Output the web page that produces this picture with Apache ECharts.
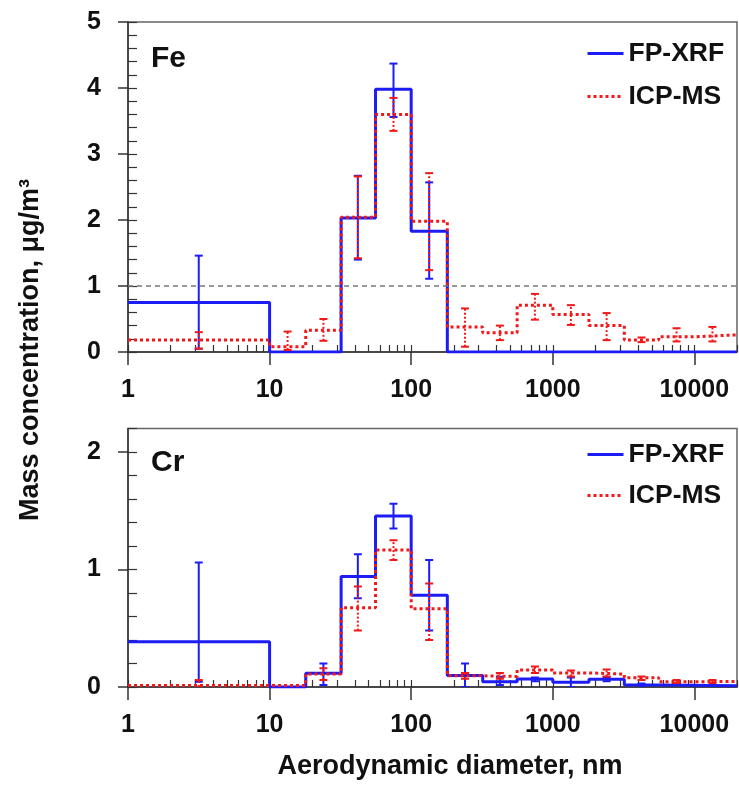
<!DOCTYPE html>
<html>
<head>
<meta charset="utf-8">
<script src="https://cdn.jsdelivr.net/npm/echarts@6/dist/echarts.min.js"></script>
<style>html,body{margin:0;padding:0;background:#fff}#c{width:739px;height:789px}</style>
</head>
<body>
<div id="c"></div>
<script>
// ---------- data ----------
const xMajorTicks = [1, 10, 100, 1000, 10000];
const xMinorTicks = [2,3,4,5,6,7,8,9,20,30,40,50,60,70,80,90,200,300,400,500,600,700,800,900,2000,3000,4000,5000,6000,7000,8000,9000,20000];
const yTicksFe = [0, 1, 2, 3, 4, 5];
const yMinorFe = [0,0.2,0.4,0.6,0.8,1,1.2,1.4,1.6,1.8,2,2.2,2.4,2.6,2.8,3,3.2,3.4,3.6,3.8,4,4.2,4.4,4.6,4.8,5];
const yTicksCr = [0, 1, 2];
const yMinorCr = [0,0.2,0.4,0.6,0.8,1,1.2,1.4,1.6,1.8,2,2.2];

// Fe panel
const feXrfEdges = [1, 10, 32, 56, 100, 180, 20000];
const feXrfValues = [0.75, 0, 2.03, 3.98, 1.83, 0];
const feXrfErr = [[3.16, 0.05, 1.46], [42, 1.40, 2.67], [75, 3.56, 4.37], [134, 1.11, 2.57]];

const feIcpEdges = [1, 10, 18, 32, 56, 100, 180, 320, 560, 1000, 1800, 3200, 5600, 10000, 20000];
const feIcpValues = [0.18, 0.08, 0.33, 2.04, 3.60, 1.98, 0.38, 0.29, 0.71, 0.57, 0.40, 0.18, 0.23, 0.26];
const feIcpErr = [[3.16, 0.05, 0.30], [13.4, 0.03, 0.31], [24, 0.17, 0.50], [42, 1.42, 2.66], [75, 3.35, 3.85],
  [134, 1.24, 2.71], [240, 0.08, 0.66], [423, 0.18, 0.40], [748, 0.49, 0.88], [1342, 0.41, 0.71],
  [2400, 0.18, 0.59], [4233, 0.15, 0.22], [7483, 0.16, 0.36], [13416, 0.16, 0.38]];

// Cr panel
const crXrfEdges = [1, 10, 18, 32, 56, 100, 180, 320, 560, 1000, 1800, 3200, 5600, 20000];
const crXrfValues = [0.385, 0, 0.117, 0.94, 1.455, 0.78, 0.097, 0.045, 0.068, 0.04, 0.065, 0.016, 0.01];
const crXrfErr = [[3.16, 0.045, 1.06], [24, 0.017, 0.20], [42, 0.755, 1.13], [75, 1.35, 1.56], [134, 0.48, 1.08],
  [240, 0.0, 0.20], [423, 0.017, 0.088], [748, 0.05, 0.08], [1342, 0.0, 0.08], [2400, 0.05, 0.085], [4233, 0.005, 0.03]];

const crIcpEdges = [1, 10, 18, 32, 56, 100, 180, 320, 560, 1000, 1800, 3200, 5600, 10000, 20000];
const crIcpValues = [0.012, 0.012, 0.11, 0.675, 1.166, 0.665, 0.095, 0.09, 0.145, 0.12, 0.11, 0.078, 0.045, 0.048];
const crIcpErr = [[3.16, 0.0, 0.06], [24, 0.06, 0.16], [42, 0.48, 0.855], [75, 1.08, 1.25], [134, 0.40, 0.88],
  [240, 0.07, 0.12], [423, 0.07, 0.12], [748, 0.12, 0.175], [1342, 0.09, 0.14], [2400, 0.09, 0.15],
  [4233, 0.06, 0.09], [7483, 0.035, 0.06], [13416, 0.035, 0.06]];

// ---------- helpers ----------
const FONT = 'Liberation Sans, Arial, Helvetica, sans-serif';
const BLUE = '#1c1cf5';
const RED = '#f01818';
const AX = '#333';

function steps(edges, vals) {
  const pts = [];
  for (let i = 0; i < vals.length; i++) {
    pts.push([edges[i], vals[i]]);
    pts.push([edges[i + 1], vals[i]]);
  }
  return pts;
}
function errRender(color, dash) {
  return function (params, api) {
    const x = api.value(0), lo = api.value(1), hi = api.value(2);
    const a = api.coord([x, lo]), b = api.coord([x, hi]);
    const hw = 4;
    const st = { stroke: color, lineWidth: 2, lineDash: dash ? [2, 2] : null };
    const cap = { stroke: color, lineWidth: 2 };
    return {
      type: 'group', children: [
        { type: 'line', shape: { x1: a[0], y1: a[1], x2: b[0], y2: b[1] }, style: st },
        { type: 'line', shape: { x1: a[0] - hw, y1: a[1], x2: a[0] + hw, y2: a[1] }, style: cap },
        { type: 'line', shape: { x1: b[0] - hw, y1: b[1], x2: b[0] + hw, y2: b[1] }, style: cap }
      ]
    };
  };
}
function xMain(grid) {
  return {
    type: 'log', logBase: 10, gridIndex: grid, min: 1, max: 20000, position: 'bottom',
    axisLine: { show: true, onZero: false, lineStyle: { color: AX, width: 1.5 } },
    axisTick: { show: true, inside: false, length: 13, customValues: xMajorTicks, lineStyle: { color: AX, width: 1.5 } },
    axisLabel: { show: true, customValues: xMajorTicks, formatter: v => String(v), margin: 26,
      fontSize: 25, fontWeight: 'bold', color: '#111', fontFamily: FONT },
    splitLine: { show: false }, minorTick: { show: false }
  };
}
function xInner(grid) {
  return {
    type: 'log', logBase: 10, gridIndex: grid, min: 1, max: 20000, position: 'bottom', offset: 0,
    axisLine: { show: false },
    axisTick: { show: true, inside: true, length: 7, customValues: xMinorTicks.concat(xMajorTicks), lineStyle: { color: AX, width: 1.2 } },
    axisLabel: { show: false }, splitLine: { show: false }
  };
}
function yMain(grid, max, ticks) {
  return {
    type: 'value', gridIndex: grid, min: 0, max: max, interval: 1, position: 'left',
    axisLine: { show: true, onZero: false, lineStyle: { color: AX, width: 1.5 } },
    axisTick: { show: true, inside: false, length: 10, customValues: ticks, lineStyle: { color: AX, width: 1.5 } },
    axisLabel: { show: true, customValues: ticks, margin: 27, fontSize: 25, fontWeight: 'bold', color: '#111', fontFamily: FONT },
    splitLine: { show: false }
  };
}
function yInner(grid, max, ticks) {
  return {
    type: 'value', gridIndex: grid, min: 0, max: max, interval: 1, position: 'left', offset: 0,
    axisLine: { show: false },
    axisTick: { show: true, inside: true, length: 9, customValues: ticks, lineStyle: { color: AX, width: 1.2 } },
    axisLabel: { show: false }, splitLine: { show: false }
  };
}
function lineSeries(name, xi, yi, edges, vals, color, dotted, extra) {
  return Object.assign({
    name: name, type: 'line', xAxisIndex: xi, yAxisIndex: yi, data: steps(edges, vals),
    symbol: 'none', showSymbol: false, clip: true, z: dotted ? 4 : 3,
    lineStyle: { color: color, width: 3, type: dotted ? [3, 3] : 'solid' },
    itemStyle: { color: color }
  }, extra || {});
}
function errSeries(name, xi, yi, data, color, dash) {
  return {
    name: name, type: 'custom', xAxisIndex: xi, yAxisIndex: yi, data: data, clip: true, z: dash ? 5 : 4,
    encode: { x: 0, y: [1, 2] }, renderItem: errRender(color, dash)
  };
}
function legendAt(top, gap) {
  return {
    data: ['FP-XRF', 'ICP-MS'], orient: 'vertical', left: 581, top: top, itemWidth: 36, itemHeight: 14, itemGap: gap,
    selectedMode: false,
    itemStyle: { color: 'transparent', borderColor: 'transparent', borderWidth: 0, opacity: 0 },
    lineStyle: { width: 3 },
    textStyle: { fontSize: 26.5, fontWeight: 'bold', color: '#111', fontFamily: FONT }
  };
}

const chart = echarts.init(document.getElementById('c'), null, { renderer: 'canvas' });
chart.setOption({
  animation: false,
  backgroundColor: '#fff',
  textStyle: { fontFamily: FONT },
  grid: [
    { left: 128, top: 22, width: 609, height: 330, show: true, borderColor: '#666', borderWidth: 1.5, backgroundColor: 'transparent' },
    { left: 128, top: 428.5, width: 609, height: 258.5, show: true, borderColor: '#666', borderWidth: 1.5, backgroundColor: 'transparent' }
  ],
  xAxis: [xMain(0), xInner(0), xMain(1), xInner(1)],
  yAxis: [yMain(0, 5, yTicksFe), yInner(0, 5, yMinorFe), yMain(1, 2.2, yTicksCr), yInner(1, 2.2, yMinorCr)],
  title: [
    { text: 'Fe', left: 146, top: 39, textStyle: { fontSize: 30, fontWeight: 'bold', color: '#111', fontFamily: FONT } },
    { text: 'Cr', left: 146, top: 443, textStyle: { fontSize: 30, fontWeight: 'bold', color: '#111', fontFamily: FONT } }
  ],
  legend: [legendAt(35, 16), legendAt(436, 14)],
  graphic: [
    { type: 'text', x: 31, y: 350, rotation: Math.PI / 2, silent: true,
      style: { text: 'Mass concentration, μg/m³', font: 'bold 27px ' + FONT, fill: '#111', align: 'center', verticalAlign: 'middle' } },
    { type: 'text', x: 450, y: 767, silent: true,
      style: { text: 'Aerodynamic diameter, nm', font: 'bold 27px ' + FONT, fill: '#111', align: 'center', verticalAlign: 'middle' } }
  ],
  series: [
    lineSeries('FP-XRF', 0, 0, feXrfEdges, feXrfValues, BLUE, false, {
      markLine: { silent: true, symbol: 'none', label: { show: false },
        lineStyle: { color: '#777', width: 1.5, type: [5, 4] }, data: [{ yAxis: 1 }] }
    }),
    errSeries('FP-XRF err', 0, 0, feXrfErr, BLUE, false),
    lineSeries('ICP-MS', 0, 0, feIcpEdges, feIcpValues, RED, true),
    errSeries('ICP-MS err', 0, 0, feIcpErr, RED, true),
    lineSeries('FP-XRF', 2, 2, crXrfEdges, crXrfValues, BLUE, false),
    errSeries('FP-XRF err', 2, 2, crXrfErr, BLUE, false),
    lineSeries('ICP-MS', 2, 2, crIcpEdges, crIcpValues, RED, true),
    errSeries('ICP-MS err', 2, 2, crIcpErr, RED, true)
  ]
});
</script>
</body>
</html>
